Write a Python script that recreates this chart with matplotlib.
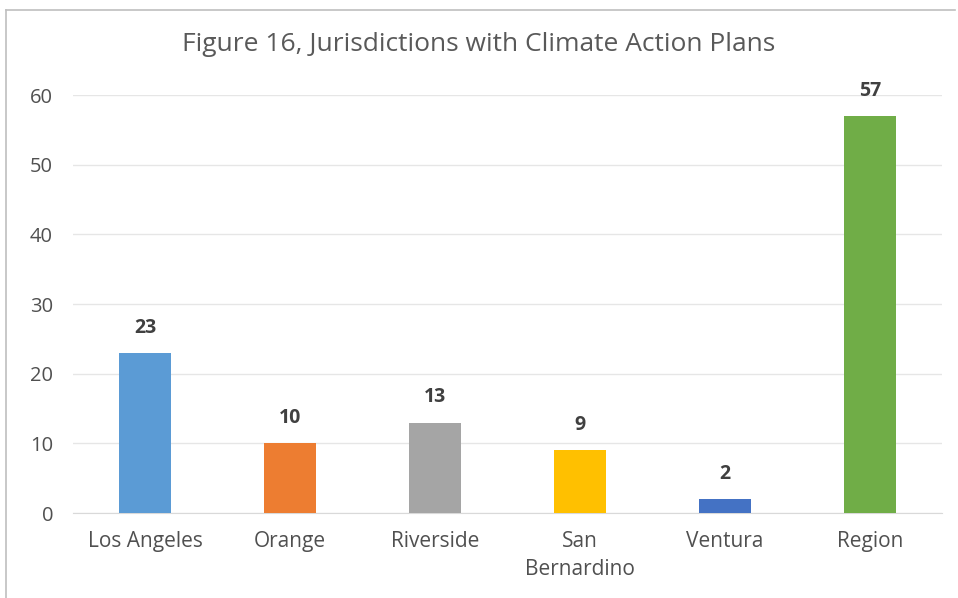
import numpy as np
import matplotlib
matplotlib.use("Agg")
import matplotlib.pyplot as plt
from matplotlib.lines import Line2D

plt.rcParams['font.family'] = ['Open Sans', 'DejaVu Sans']

categories = ["Los Angeles", "Orange", "Riverside", "San\nBernardino", "Ventura", "Region"]
plans = [23, 10, 13, 9, 2, 57]
bar_colors = ["#5B9BD5", "#ED7D31", "#A5A5A5", "#FFC000", "#4472C4", "#70AD47"]
yticks = [0, 10, 20, 30, 40, 50, 60]

fig = plt.figure(figsize=(9.58, 5.98), dpi=100)
fig.patch.set_facecolor('white')
ax = fig.add_axes([0.0757, 0.142, 0.908, 0.699])

x = np.arange(len(categories))
bars = ax.bar(x, plans, width=0.36, color=bar_colors, zorder=3)
for rect, v in zip(bars, plans):
    ax.annotate(str(v), (rect.get_x() + rect.get_width() / 2, v),
                xytext=(0, 11), textcoords='offset points',
                ha='center', va='bottom', fontsize=14, fontweight='bold',
                color='#404040')

ax.set_xlim(-0.5, len(categories) - 0.5)
ax.set_ylim(0, 60)
ax.set_yticks(yticks)
ax.set_xticks(x)
ax.set_xticklabels(categories, linespacing=1.45)
ax.grid(axis='y', color='#E6E6E6', linewidth=1, zorder=0)
for s in ['top', 'right', 'left']:
    ax.spines[s].set_visible(False)
ax.spines['bottom'].set_color('#D9D9D9')
ax.tick_params(axis='both', length=0, colors='#505050')
ax.tick_params(axis='y', pad=14, labelsize=14.5)
ax.tick_params(axis='x', pad=13, labelsize=15)

fig.text(0.5, 0.925, "Figure 16, Jurisdictions with Climate Action Plans",
         ha='center', va='center', fontsize=19, color='#595959')

# outer chart frame (bottom cut off in the source)
fig.add_artist(Line2D([0.006, 0.006], [0.0, 0.983], color='#BFBFBF', lw=1.2))
fig.add_artist(Line2D([0.006, 0.997], [0.983, 0.983], color='#BFBFBF', lw=1.2))

fig.savefig("out.png", dpi=100)
